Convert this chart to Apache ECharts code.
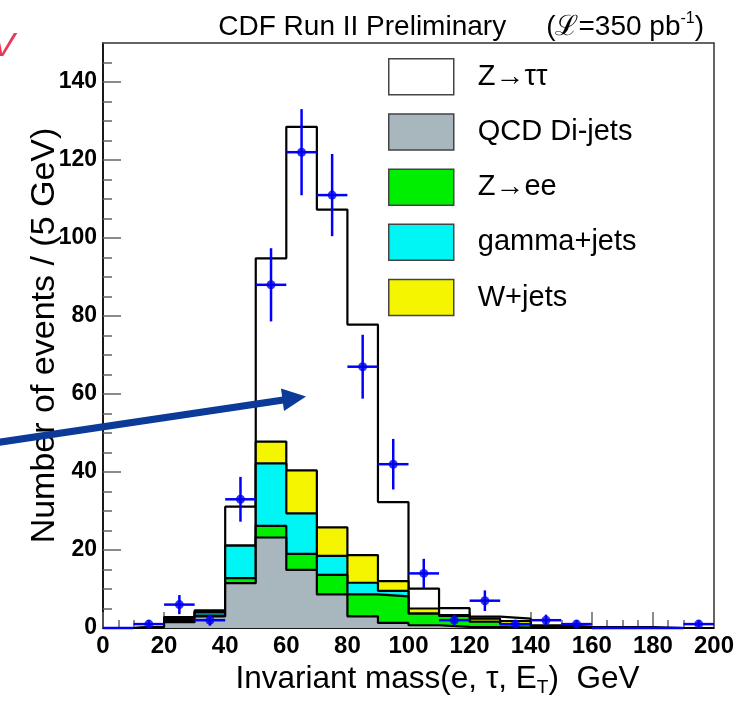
<!DOCTYPE html>
<html>
<head>
<meta charset="utf-8">
<script src="https://cdn.jsdelivr.net/npm/echarts@6/dist/echarts.min.js"></script>
<style>
  html, body { margin: 0; padding: 0; background: #ffffff; }
  #chart { width: 753px; height: 702px; }
</style>
</head>
<body>
<div id="chart"></div>
<script>
// Lower edges of the 10 GeV mass bins
const binLow = [0, 10, 20, 30, 40, 50, 60, 70, 80, 90, 100, 110, 120, 130, 140, 150, 160, 170, 180, 190];
const binWidth = 10;

// Expected contributions per bin (events)
const qcdDijets = [0, 0.2, 1.5, 3.0, 11.5, 23.2, 14.9, 8.6, 3.0, 1.3, 0.7, 0.3, 0.2, 0.1, 0, 0, 0, 0, 0, 0];
const zee       = [0, 0, 0.5, 0.2, 1.3, 3.0, 4.1, 5.0, 5.6, 6.8, 3.0, 2.8, 1.4, 0.9, 0.3, 0.1, 0, 0, 0, 0];
const gammaJets = [0, 0, 0.2, 0.8, 8.3, 16.0, 10.4, 4.9, 3.0, 1.4, 0, 0, 0, 0, 0, 0, 0, 0, 0, 0];
const wJets     = [0, 0, 0.2, 0.2, 0, 5.6, 11.0, 7.3, 7.1, 2.5, 1.3, 0.2, 0.8, 0.8, 0.2, 0.1, 0, 0, 0, 0];
const zTauTau   = [0, 0.1, 0.4, 0.3, 10.0, 47.0, 88.1, 81.5, 59.1, 20.3, 5.1, 1.8, 0.5, 0.6, 0.2, 0.1, 0.2, 0.2, 0, 0];

// Observed events per bin
const observed = [0, 1, 6, 2, 33, 88, 122, 111, 67, 42, 14, 2, 7, 1, 2, 1, 0, 0, 0, 1];

// Axis ticks
const xTicks = { min: 0, max: 200, major: 20, minor: 5 };
const yTicks = { min: 0, max: 150, major: 20, minor: 5 };

// Stack order from bottom to top
const layers = [
  { name: 'QCD Di-jets', values: qcdDijets, color: '#a8b6bd' },
  { name: 'Z\u2192ee',   values: zee,       color: '#00ee00' },
  { name: 'gamma+jets',  values: gammaJets, color: '#00f5f5' },
  { name: 'W+jets',      values: wJets,     color: '#f5f500' },
  { name: 'Z\u2192\u03c4\u03c4', values: zTauTau, color: '#ffffff' }
];

// Running sums so each outline sits on top of the layers beneath it
const running = binLow.map(() => 0);
layers.forEach(layer => {
  layer.cumulative = layer.values.map((v, i) => (running[i] += v, +running[i].toFixed(3)));
});

function stepPoints(vals) {
  const pts = binLow.map((x, i) => [x, vals[i]]);
  pts.push([binLow[binLow.length - 1] + binWidth, vals[vals.length - 1]]);
  return pts;
}

const FONT = 'Liberation Sans, Arial, sans-serif';

// Filled histograms: the tallest one is drawn first, the smaller sums paint over it
const histSeries = layers.slice().reverse().map((layer, k) => ({
  name: layer.name,
  type: 'line',
  step: 'end',
  data: stepPoints(layer.cumulative),
  showSymbol: false,
  symbol: 'none',
  silent: true,
  z: 2 + k,
  itemStyle: { color: layer.color },
  lineStyle: { color: '#000000', width: 2.2 },
  areaStyle: { color: layer.color, opacity: 1 }
}));

const errorSeries = {
  type: 'custom',
  z: 20,
  silent: true,
  data: binLow.map((x, i) => [x + binWidth / 2, observed[i]]),
  renderItem(params, api) {
    const x = api.value(0), y = api.value(1);
    const e = Math.sqrt(y);
    const l = api.coord([x - binWidth / 2, y]);
    const r = api.coord([x + binWidth / 2, y]);
    const t = api.coord([x, y + e]);
    const b = api.coord([x, y - e]);
    const st = { stroke: '#0000ff', lineWidth: 2.5 };
    return {
      type: 'group',
      children: [
        { type: 'line', shape: { x1: l[0], y1: l[1], x2: r[0], y2: r[1] }, style: st },
        { type: 'line', shape: { x1: t[0], y1: t[1], x2: b[0], y2: b[1] }, style: st }
      ]
    };
  }
};

const pointSeries = {
  type: 'scatter',
  z: 21,
  silent: true,
  symbol: 'circle',
  symbolSize: 9,
  itemStyle: { color: '#0000f0' },
  data: binLow.map((x, i) => [x + binWidth / 2, observed[i]]).filter(p => p[1] > 0)
};

const chart = echarts.init(document.getElementById('chart'), null, { renderer: 'canvas' });

chart.setOption({
  backgroundColor: '#ffffff',
  animation: false,
  title: {
    text: '{a|CDF Run II Preliminary}{g|}{a|(\u2112=350 pb}{s|-1}{a|)}',
    right: 44,
    top: 6,
    textStyle: {
      rich: {
        a: { fontSize: 28, lineHeight: 32, fontWeight: 'normal', fontFamily: FONT, color: '#000' },
        g: { width: 40 },
        s: { fontSize: 16, lineHeight: 16, verticalAlign: 'top', fontWeight: 'normal', fontFamily: FONT, color: '#000' }
      }
    }
  },
  legend: {
    orient: 'vertical',
    left: 388,
    top: 58,
    padding: 0,
    icon: 'rect',
    itemWidth: 65,
    itemHeight: 36,
    itemGap: 17.7,
    selectedMode: false,
    data: ['Z\u2192\u03c4\u03c4', 'QCD Di-jets', 'Z\u2192ee', 'gamma+jets', 'W+jets'],
    itemStyle: { borderColor: '#444', borderWidth: 1.5 },
    textStyle: { fontSize: 29, fontFamily: FONT, color: '#000', padding: [0, 0, 0, 19] }
  },
  grid: { left: 103, top: 43, width: 611, height: 587, show: true, borderColor: '#333', borderWidth: 1.5, backgroundColor: 'transparent' },
  xAxis: [
    {
      type: 'value', min: xTicks.min, max: xTicks.max, interval: xTicks.major,
      name: '{t|Invariant mass(e, \u03c4, E}{sub|T}{t|)  GeV}',
      nameLocation: 'middle', nameGap: 33, nameMoveOverlap: false,
      nameTextStyle: {
        padding: [0, 0, 0, 58],
        rich: {
          t: { fontSize: 31.5, lineHeight: 36, fontFamily: FONT, color: '#000' },
          sub: { fontSize: 19, lineHeight: 14, verticalAlign: 'bottom', fontFamily: FONT, color: '#000' }
        }
      },
      axisLine: { show: true, lineStyle: { color: '#000', width: 1.5 } },
      axisTick: { inside: true, length: 16, lineStyle: { color: '#666', width: 1.5 } },
      axisLabel: { fontSize: 24, fontWeight: 'bold', fontFamily: FONT, color: '#000', margin: 6 },
      splitLine: { show: false }
    },
    {
      type: 'value', min: xTicks.min, max: xTicks.max, interval: xTicks.minor, position: 'bottom', offset: 0,
      axisLine: { show: false },
      axisTick: { inside: true, length: 8, lineStyle: { color: '#666', width: 1.5 } },
      axisLabel: { show: false },
      splitLine: { show: false }
    }
  ],
  yAxis: [
    {
      type: 'value', min: yTicks.min, max: yTicks.max, interval: yTicks.major,
      name: 'Number of events / (5 GeV)',
      nameLocation: 'middle', nameGap: 41, nameMoveOverlap: false,
      nameTextStyle: { fontSize: 34, fontFamily: FONT, color: '#000' },
      axisLine: { show: true, lineStyle: { color: '#000', width: 1.5 } },
      axisTick: { inside: true, length: 18, lineStyle: { color: '#666', width: 1.5 } },
      axisLabel: { fontSize: 23, fontWeight: 'bold', fontFamily: FONT, color: '#000', margin: 6, showMaxLabel: false },
      splitLine: { show: false }
    },
    {
      type: 'value', min: yTicks.min, max: yTicks.max, interval: yTicks.minor, position: 'left', offset: 0,
      axisLine: { show: false },
      axisTick: { inside: true, length: 9, lineStyle: { color: '#666', width: 1.5 } },
      axisLabel: { show: false },
      splitLine: { show: false }
    }
  ],
  graphic: [
    { type: 'line', z: 100, shape: { x1: -6, y1: 443, x2: 285, y2: 399.7 }, style: { stroke: '#0b3a98', lineWidth: 7 } },
    { type: 'polygon', z: 100, shape: { points: [[306, 396.5], [281, 388.5], [284, 411]] }, style: { fill: '#0b3a98' } },
    { type: 'text', z: 100, left: -8, top: 30, style: { text: 'V', fontSize: 34, fontStyle: 'italic', fontFamily: FONT, fill: '#e8385a' } }
  ],
  series: histSeries.concat([errorSeries, pointSeries])
});
</script>
</body>
</html>
